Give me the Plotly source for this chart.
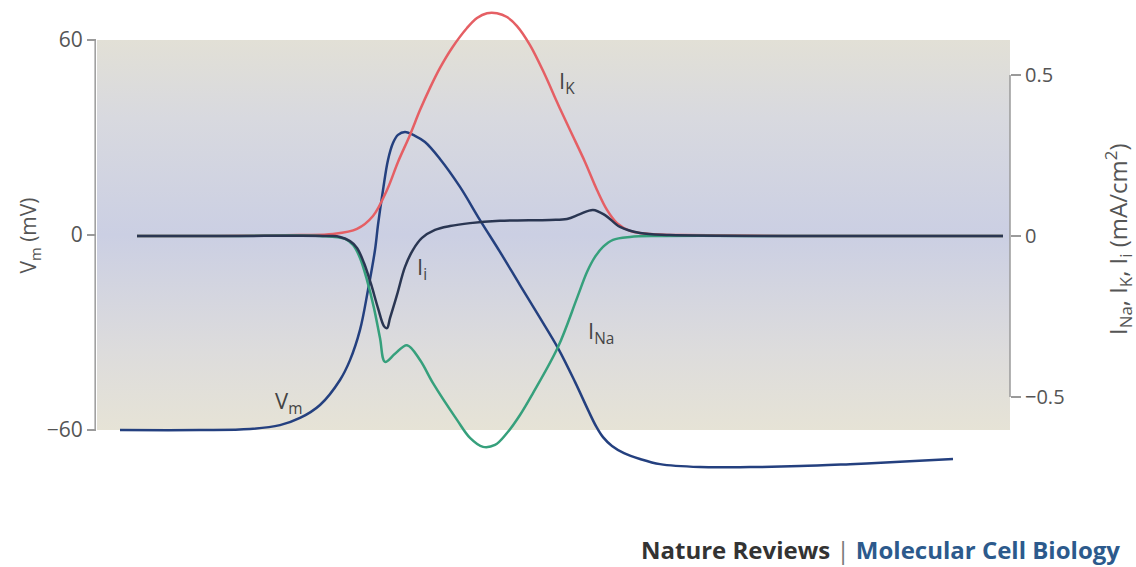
import plotly.graph_objects as go

# ---- data (time in ms, Vm in mV, currents in mA/cm^2) ----
t_vm = [0.23, 1.03, 1.53, 1.83, 2.03, 2.23, 2.43, 2.53, 2.63, 2.71, 2.78, 2.81, 2.86, 2.91, 2.96,
        3.01, 3.08, 3.18, 3.28, 3.43, 3.63, 3.83, 4.03, 4.23, 4.43, 4.61, 4.78, 4.91, 4.99, 5.06,
        5.15, 5.27, 5.43, 5.63, 6.03, 6.53, 7.03, 7.53, 8.03, 8.56]
vm = [-60.0, -60.0, -59.7, -58.5, -56.3, -52.3, -44.6, -38.5, -29.2, -16.9, -4.6, 3.1, 13.8, 23.1, 28.3,
      30.8, 31.7, 30.5, 28.6, 23.4, 14.8, 4.6, -5.2, -15.4, -25.5, -34.8, -45.2, -53.8, -58.8, -62.2,
      -64.9, -67.1, -68.9, -70.5, -71.4, -71.4, -71.1, -70.5, -69.8, -68.9]

t_k = [0.40, 1.20, 2.03, 2.36, 2.60, 2.76, 2.90, 3.01, 3.13, 3.23, 3.33, 3.43, 3.55, 3.70, 3.80,
       3.90, 4.00, 4.10, 4.20, 4.33, 4.48, 4.60, 4.73, 4.88, 5.00, 5.10, 5.20, 5.33, 5.53, 5.83,
       7.00, 9.06]
i_k = [0.0, 0.0, 0.003, 0.006, 0.022, 0.062, 0.143, 0.230, 0.314, 0.391, 0.460, 0.522, 0.584, 0.646, 0.677,
       0.692, 0.692, 0.680, 0.652, 0.593, 0.500, 0.416, 0.329, 0.230, 0.143, 0.081, 0.040, 0.016, 0.006, 0.003,
       0.0, 0.0]

t_na = [0.40, 1.30, 2.23, 2.48, 2.56, 2.63, 2.70, 2.77, 2.83, 2.88, 2.98, 3.10, 3.23, 3.36, 3.60, 3.73, 3.86,
        3.98, 4.10, 4.23, 4.36, 4.61, 4.80, 4.90, 4.98, 5.06, 5.16, 5.33, 5.63, 7.00, 9.06]
i_na = [0.0, 0.0, 0.0, -0.009, -0.028, -0.068, -0.137, -0.224, -0.317, -0.391, -0.366, -0.339, -0.385, -0.457, -0.571, -0.627, -0.655,
        -0.649, -0.612, -0.556, -0.488, -0.345, -0.193, -0.112, -0.065, -0.034, -0.012, -0.003, 0.0, 0.0, 0.0]

t_i = [0.40, 1.30, 2.33, 2.43, 2.53, 2.60, 2.67, 2.74, 2.81, 2.87, 2.90, 2.93, 3.00, 3.08, 3.16, 3.25, 3.38,
       3.53, 3.73, 4.03, 4.53, 4.70, 4.83, 4.96, 5.08, 5.23, 5.43, 5.73, 7.00, 9.06]
i_i = [0.0, 0.0, 0.0, -0.003, -0.016, -0.037, -0.084, -0.149, -0.224, -0.280, -0.286, -0.255, -0.183, -0.096, -0.043, -0.006, 0.019,
       0.031, 0.040, 0.047, 0.050, 0.053, 0.068, 0.081, 0.065, 0.028, 0.009, 0.003, 0.0, 0.0]

vm_ticks = [-60, 0, 60]
vm_ticktext = ["\u221260", "0", "60"]
i_ticks = [-0.5, 0, 0.5]
i_ticktext = ["\u22120.5", "0", "0.5"]

box_t = [0.0, 9.15]
box_v = [-60, 60]

C_VM = "#24407f"
C_I = "#2a3652"
C_K = "#e55f64"
C_NA = "#36a07c"
GREY = "#555555"
AX = "#9a9a9a"
FONT = "Open Sans"

fig = go.Figure()

# gradient background panel
fig.add_trace(go.Scatter(
    x=[box_t[0], box_t[1], box_t[1], box_t[0], box_t[0]],
    y=[box_v[0], box_v[0], box_v[1], box_v[1], box_v[0]],
    mode="none", fill="toself",
    fillgradient=dict(type="vertical", colorscale=[
        [0.0, "#e6e3d6"], [0.2, "#dddcdc"], [0.5, "#cbcfe3"], [0.8, "#d8d9df"], [1.0, "#e2e0d6"]]),
    hoverinfo="skip", showlegend=False, yaxis="y"))

def line(x, y, color, axis):
    fig.add_trace(go.Scatter(x=x, y=y, mode="lines", yaxis=axis,
                             line=dict(color=color, width=2.5, shape="spline", smoothing=1.0),
                             showlegend=False, hoverinfo="skip"))

line(t_k, i_k, C_K, "y2")
line(t_na, i_na, C_NA, "y2")
line(t_i, i_i, C_I, "y2")
line(t_vm, vm, C_VM, "y")

fig.update_layout(
    width=1136, height=567,
    margin=dict(l=97, r=126, t=5, b=87, autoexpand=False),
    paper_bgcolor="white", plot_bgcolor="white",
    showlegend=False,
    font=dict(family=FONT, color=GREY),
    xaxis=dict(range=[0, 9.13], visible=False),
    yaxis=dict(range=[-75.38, 70.77], tickvals=vm_ticks, ticktext=vm_ticktext,
               ticks="outside", ticklen=9, tickcolor=AX, tickwidth=1.5,
               showline=False, showgrid=False, zeroline=False,
               tickfont=dict(size=21, color=GREY, family=FONT)),
    yaxis2=dict(range=[-0.7578, 0.7174], overlaying="y", side="right",
                tickvals=i_ticks, ticktext=i_ticktext,
                ticks="outside", ticklen=10, tickcolor=AX, tickwidth=1.5,
                showline=False, showgrid=False, zeroline=False,
                tickfont=dict(size=20, color=GREY, family=FONT)),
)

# axis lines spanning only the tick range
fig.add_shape(type="line", xref="paper", yref="y", x0=-0.002, x1=-0.002, y0=vm_ticks[0], y1=vm_ticks[-1],
              line=dict(color=AX, width=1.5))
fig.add_shape(type="line", xref="paper", yref="y2", x0=1, x1=1, y0=i_ticks[0], y1=i_ticks[-1],
              line=dict(color=AX, width=1.5))

# axis titles
fig.add_annotation(text="V<sub>m</sub> (mV)", xref="paper", yref="y", x=-0.074, y=0,
                   xanchor="center", yanchor="middle",
                   textangle=-90, showarrow=False, font=dict(size=21, color=GREY, family=FONT))
fig.add_annotation(text="I<sub>Na</sub>, I<sub>K</sub>, I<sub>i</sub> (mA/cm<sup>2</sup>)",
                   xref="paper", yref="y2", x=1.118, y=-0.01,
                   xanchor="center", yanchor="middle",
                   textangle=-90, showarrow=False, font=dict(size=24, color=GREY, family=FONT))

# curve labels
labels = [("I<sub>K</sub>", 4.70, 0.478, "y2"),
          ("I<sub>i</sub>", 3.25, -0.099, "y2"),
          ("I<sub>Na</sub>", 5.04, -0.298, "y2"),
          ("V<sub>m</sub>", 1.91, -51.4, "y")]
for txt, x, y, ax in labels:
    fig.add_annotation(text=txt, x=x, y=y, xref="x", yref=ax, showarrow=False,
                       font=dict(size=22, color="#444444", family=FONT))

# footer
fig.add_annotation(
    text="<b>Nature Reviews</b> <span style='color:#777'>|</span> <b><span style='color:#2c5a8c'>Molecular Cell Biology</span></b>",
    xref="paper", yref="paper", x=1.1227, y=-0.1453, xanchor="right", yanchor="middle",
    showarrow=False, font=dict(size=24, color="#333333", family=FONT))

fig.write_html("out.html", config={"displayModeBar": False},
               post_script="document.body.style.margin='0';document.body.style.overflow='hidden';")
